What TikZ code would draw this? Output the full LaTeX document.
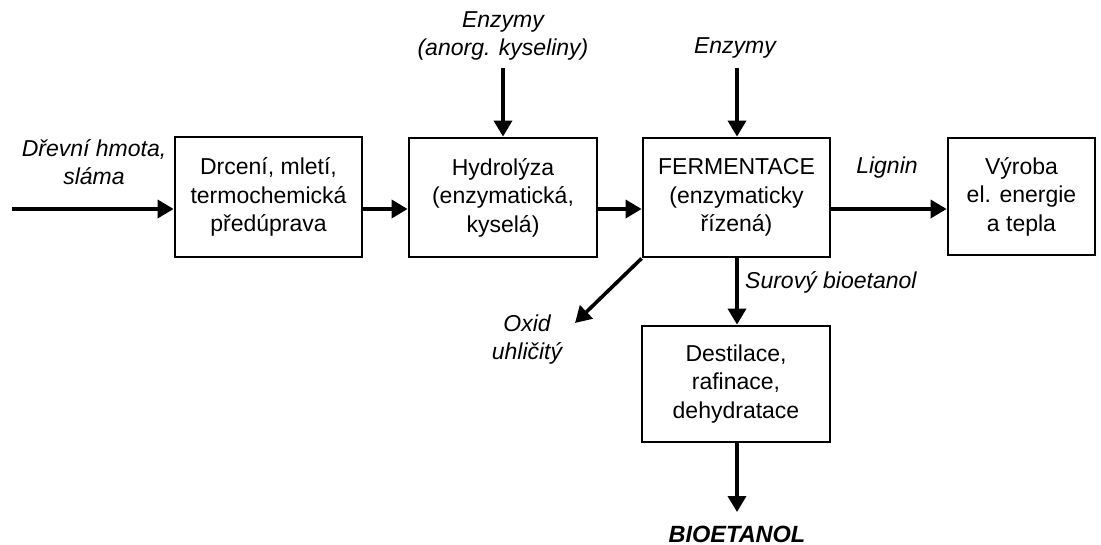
\documentclass[tikz,border=0pt]{standalone}
\usepackage{fontspec}
\setmainfont{Liberation Sans}
\usetikzlibrary{arrows.meta}
\begin{document}
\begin{tikzpicture}[x=1pt,y=-1pt,
  box/.style={draw,line width=2.8pt,align=center,inner sep=0pt,font=\fontsize{23}{28.5}\selectfont},
  lab/.style={align=center,inner sep=0pt,font=\fontsize{23}{28}\selectfont\itshape},
  flow/.style={line width=3.6pt,-{Triangle[length=16pt,width=18pt]}}]
\useasboundingbox (0,0) rectangle (1101,545);
\node[box,minimum width=187pt,minimum height=120pt] (b1) at (268.5,197) {Drcení, mletí,\\termochemická\\předúprava};
\node[box,minimum width=188pt,minimum height=119pt] (b2) at (503,197.5) {Hydrolýza\\(enzymatická,\\kyselá)};
\node[box,minimum width=187pt,minimum height=119pt] (b3) at (736.5,197.5) {FERMENTACE\\(enzymaticky\\řízená)};
\node[box,minimum width=147pt,minimum height=117pt] (b4) at (1021.5,196.5) {Výroba\\el. energie\\a tepla};
\node[box,minimum width=188pt,minimum height=116pt] (b5) at (736,384) {Destilace,\\rafinace,\\dehydratace};
\node[lab] (ldr) at (94,162) {Dřevní hmota,\\sláma};
\node[lab] (lenz1) at (503,36) {Enzymy\\(anorg. kyseliny)};
\node[lab] (lenz2) at (735,48) {Enzymy};
\node[lab] (llig) at (887,168) {Lignin};
\node[lab,anchor=west] (lsur) at (745,282) {Surový bioetanol};
\node[lab] (loxid) at (527,340) {Oxid\\uhličitý};
\node[lab,font=\fontsize{23.5}{28}\selectfont\bfseries\itshape] (lbio) at (737,534) {BIOETANOL};
\coordinate (in) at (12,209);
\coordinate (e1) at (503,68);
\coordinate (e2) at (737,68);
\coordinate (ox) at (575,323);
\coordinate (out) at (737,512);
\draw[flow] (in) -- (in -| b1.west);
\draw[flow] (b1.east |- 0,209) -- (b2.west |- 0,209);
\draw[flow] (b2.east |- 0,209) -- (b3.west |- 0,209);
\draw[flow] (b3.east |- 0,209) -- (b4.west |- 0,209);
\draw[flow] (e1) -- (e1 |- b2.north);
\draw[flow] (e2) -- (e2 |- b3.north);
\draw[flow] (b3.south -| 737,0) -- (b5.north -| 737,0);
\draw[flow] (b3.south west) -- (ox);
\draw[flow] (b5.south -| 737,0) -- (out);
\end{tikzpicture}
\end{document}
